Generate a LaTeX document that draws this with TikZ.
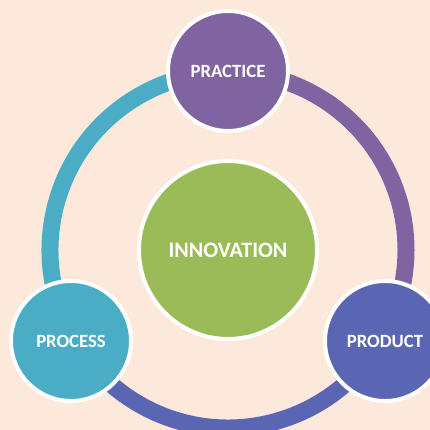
\documentclass[tikz,border=0pt]{standalone}
\usepackage{fontspec}
\setmainfont{Carlito}
\definecolor{bgpeach}{HTML}{FDE9DB}
\definecolor{cteal}{HTML}{4BACC6}
\definecolor{cpurple}{HTML}{8064A2}
\definecolor{cblue}{HTML}{5A66B3}
\definecolor{cgreen}{HTML}{9BBB59}
\tikzset{
  ringarc/.style={line width=17pt},
  bubble/.style={circle, draw=white, line width=4pt, minimum size=120pt, inner sep=0pt,
    text=white, font=\bfseries\fontsize{18.7}{21}\selectfont},
  bigbubble/.style={bubble, minimum size=178pt, font=\bfseries\fontsize{22}{25}\selectfont}
}
\begin{document}
\begin{tikzpicture}[x=1pt,y=1pt]
\fill[bgpeach] (0,0) rectangle (430,430);
\useasboundingbox (0,0) rectangle (430,430);
\coordinate (c) at (228,180);
\draw[ringarc, cteal] ([shift={(210:178pt)}]c) arc (210:90:178pt);
\draw[ringarc, cpurple] ([shift={(90:178pt)}]c) arc (90:-30:178pt);
\draw[ringarc, cblue] ([shift={(-30:178pt)}]c) arc (-30:-150:178pt);
\node[bigbubble, fill=cgreen] (innov) at (c) {INNOVATION};
\node[bubble, fill=cpurple] (practice) at (228,359) {PRACTICE};
\node[bubble, fill=cteal] (process) at (71,89) {PROCESS};
\node[bubble, fill=cblue] (product) at (385,89) {PRODUCT};
\end{tikzpicture}
\end{document}
